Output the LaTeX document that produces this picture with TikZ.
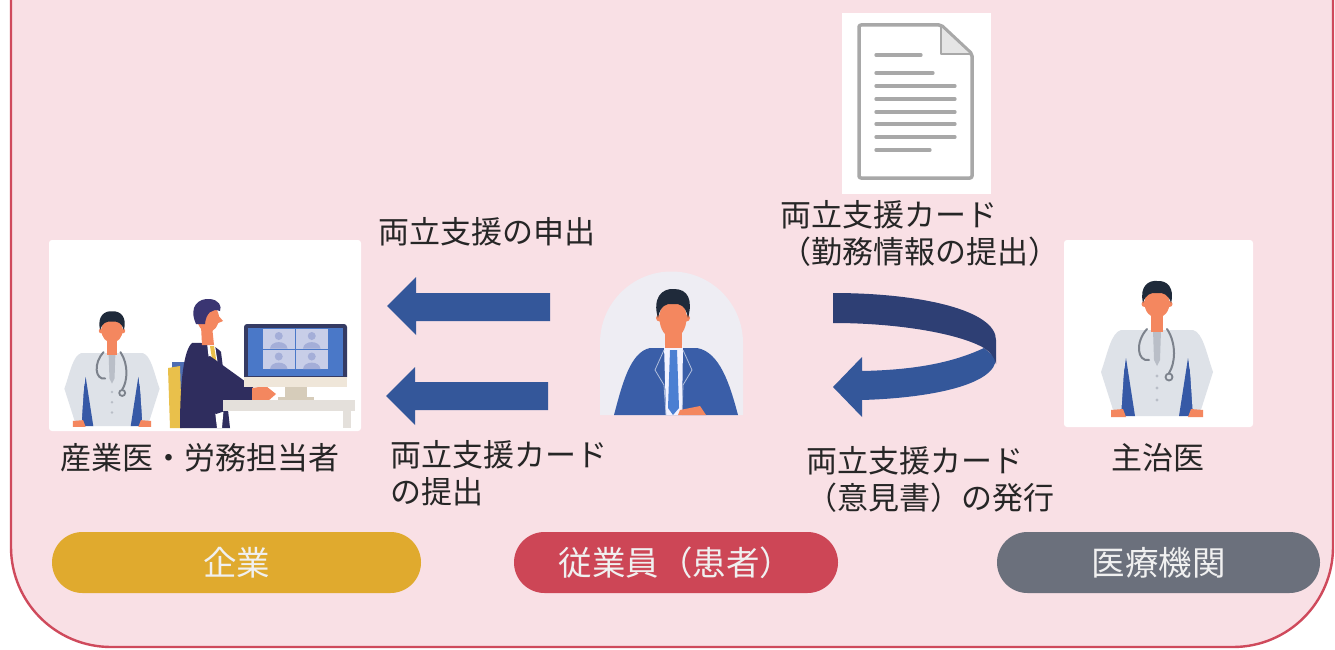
\documentclass[tikz,border=0pt]{standalone}
\usepackage{fontspec}
\usetikzlibrary{calc}
\newfontfamily\jp{Noto Sans CJK JP}
\definecolor{panelfill}{HTML}{F9E0E5}
\definecolor{panelline}{HTML}{CF4A5C}
\definecolor{arrowblue}{HTML}{34579A}
\definecolor{arrownavy}{HTML}{2E3F74}
\definecolor{txt}{HTML}{262626}
\definecolor{pillgold}{HTML}{E0AA2E}
\definecolor{pillred}{HTML}{CD4656}
\definecolor{pillgray}{HTML}{6B707C}
\definecolor{skin}{HTML}{F4875F}
\definecolor{hairdark}{HTML}{1F2A3A}
\definecolor{hairpurple}{HTML}{3A3572}
\definecolor{coat}{HTML}{DEE2E8}
\definecolor{coatshade}{HTML}{B9BEC7}
\definecolor{steth}{HTML}{7C828C}
\definecolor{innerblue}{HTML}{3659A6}
\definecolor{suitnavy}{HTML}{2F2D5E}
\definecolor{suitblue}{HTML}{3A5EA8}
\definecolor{tieblue}{HTML}{4B7FD2}
\definecolor{tiegold}{HTML}{E9C04B}
\definecolor{chairblue}{HTML}{4D6DB3}
\definecolor{monframe}{HTML}{353B63}
\definecolor{screenblue}{HTML}{4A78C8}
\definecolor{tile}{HTML}{C8CEE8}
\definecolor{tileperson}{HTML}{A4AED8}
\definecolor{bezel}{HTML}{EFE6D9}
\definecolor{stand}{HTML}{D6CCBA}
\definecolor{desk}{HTML}{E4E0DB}
\definecolor{arch}{HTML}{EEEDF3}
\definecolor{pagegray}{HTML}{A8A8A8}
\tikzset{
  lbl/.style={text=txt, font=\jp\fontsize{31}{37}\selectfont, inner sep=0pt, align=left},
  pill/.style={rounded corners=30.5pt, minimum height=61pt, inner sep=0pt,
    text=white!94!black, font=\jp\fontsize{33.5}{36}\selectfont},
  picbox/.style={fill=white, rounded corners=3pt},
  doctor/.pic={
    % coat body
    \fill[coat] (-36,0) -- (36,0) -- (25,86) -- (-25,86) -- cycle;
    % dark inner clothes showing beside the arms
    \fill[innerblue] (-31,28) -- (-22,86) -- (-40,86) -- cycle;
    \fill[innerblue] (31,28) -- (22,86) -- (40,86) -- cycle;
    % arms
    \fill[coat] (-36,0) .. controls (-46,3) and (-49,22) .. (-56,42) -- (-42,86) -- (-36,86) -- (-33,40) -- (-30,8) -- cycle;
    \fill[coat] (36,0) .. controls (46,3) and (49,22) .. (56,42) -- (42,86) -- (36,86) -- (33,40) -- (30,8) -- cycle;
    % hands
    \fill[skin] (-46,80) -- (-34,79) -- (-31,87) -- (-46,87) -- cycle;
    \fill[skin] (46,80) -- (34,79) -- (31,87) -- (46,87) -- cycle;
    % shirt and buttons
    \fill[coatshade] (-4,0) -- (4,0) -- (3,30) -- (0,36) -- (-3,30) -- cycle;
    \foreach \b in {46,58,70} \fill[coatshade] (0,\b) circle (1.6);
    % neck, face, ears, hair
    \fill[skin] (-6,-18) rectangle (6,2);
    \fill[skin] (0,-27) ellipse (12.5 and 15);
    \fill[skin] (-12.5,-26) circle (3);
    \fill[skin] (12.5,-26) circle (3);
    \fill[hairdark] (-14,-27) .. controls (-18,-44) and (-8,-50) .. (0,-49)
      .. controls (10,-50) and (18,-42) .. (14,-27)
      .. controls (12,-35) and (6,-38) .. (0,-37)
      .. controls (-6,-38) and (-12,-35) .. (-14,-27) -- cycle;
    % stethoscope
    \draw[steth, line width=2pt, line cap=round] (-10,-1) .. controls (-22,12) and (-20,32) .. (-8,30);
    \draw[steth, line width=2pt, line cap=round] (10,-1) .. controls (20,14) and (18,34) .. (12,43);
    \draw[steth, line width=1.8pt] (12,47) circle (3.5);
  }
}
\begin{document}
\begin{tikzpicture}[x=1pt,y=-1pt]
\useasboundingbox (0,0) rectangle (1335,650);
\fill[white] (0,0) rectangle (1335,650);

% background panel, its top edge lying above the page
\begin{scope}
  \clip (0,0) rectangle (1335,650);
  \draw[fill=panelfill, draw=panelline, line width=2.4pt, rounded corners=100pt]
    (11,-120) rectangle (1333,647);
\end{scope}

% ---------- company: doctor and staff at a video call ----------
\fill[picbox] (49,240) rectangle (361,431);
\pic[scale=0.85] at (112,353) {doctor};
% chair
\fill[chairblue] (172,362) rectangle (186,400);
\fill[tiegold] (168,368) -- (180,366) -- (182,428) -- (170,428) -- cycle;
% torso
\fill[suitnavy] (192,343) .. controls (184,350) and (180,380) .. (180,428) -- (230,428)
  -- (226,392) -- (221,352) .. controls (215,345) and (205,342) .. (192,343) -- cycle;
\fill[white] (207,343) -- (215,345) -- (224,405) -- (222,428) -- (217,428) -- cycle;
\fill[tiegold] (210,346) -- (214,346) -- (223,403) -- (220,410) -- cycle;
% arm reaching the keyboard
\fill[suitnavy] (196,362) -- (210,356) -- (253,387) -- (253,402) -- (216,414) -- (204,404) -- cycle;
\fill[skin] (252,388) -- (266,386) -- (276,394) -- (268,401) -- (252,402) -- cycle;
% head
\fill[skin] (201,326) -- (212,326) -- (214,345) -- (202,345) -- cycle;
\fill[skin] (208,318) ellipse (11 and 14);
\fill[skin] (217,314) -- (223,321) -- (216,324) -- cycle;
\fill[hairpurple] (196,324) .. controls (188,306) and (199,298) .. (210,299)
  .. controls (219,300) and (222,306) .. (220,311)
  .. controls (212,308) and (206,313) .. (205,324) -- cycle;
% monitor
\fill[monframe, rounded corners=3pt] (244,324) rectangle (347,380);
\fill[screenblue] (248,328) rectangle (343,376);
\foreach \tx/\ty in {263/329,296/329,263/349.5,296/349.5}{
  \fill[tile] (\tx,\ty) rectangle ++(31.5,19.5);
  \fill[tileperson] ($(\tx,\ty)+(15.75,7)$) circle (4);
  \fill[tileperson] ($(\tx,\ty)+(7,19.5)$) .. controls ($(\tx,\ty)+(8,11)$) and ($(\tx,\ty)+(23.5,11)$) .. ($(\tx,\ty)+(24.5,19.5)$) -- cycle;
}
\fill[bezel] (244,377) rectangle (347,387);
\fill[stand] (285,387) rectangle (307,398);
\fill[stand] (278,397) rectangle (314,401);
% desk
\fill[desk] (223,400) rectangle (355,411);
\fill[desk] (343,411) rectangle (351,428);

% ---------- employee ----------
\fill[arch] (600,415) -- (600,343) arc[start angle=180, end angle=360, radius=71.5] -- (743,415) -- cycle;
\fill[suitblue] (650,348) .. controls (630,352) and (622,385) .. (614,415) -- (738,415)
  .. controls (730,385) and (720,352) .. (697,348) -- cycle;
\fill[white!95!blue] (664,345) -- (683,345) -- (682,415) -- (666,415) -- cycle;
\fill[tieblue] (670,350) -- (677,350) -- (679,408) -- (673,415) -- (668,408) -- cycle;
\draw[white!60!suitblue, line width=0.8pt] (664,350) -- (655,370) -- (664,385) -- (666,415);
\draw[white!60!suitblue, line width=0.8pt] (683,350) -- (692,370) -- (683,385) -- (682,415);
\fill[skin] (680,410) -- (700,406) -- (706,415) -- (678,415) -- cycle;
\fill[skin] (665,326) rectangle (682,348);
\fill[skin] (673,318) ellipse (13.5 and 20);
\fill[skin] (659.5,318) circle (3.5);
\fill[skin] (686.5,318) circle (3.5);
\fill[hairdark] (658,318) .. controls (652,298) and (662,288) .. (674,289)
  .. controls (688,289) and (693,300) .. (688,318)
  .. controls (686,306) and (680,303) .. (673,304)
  .. controls (666,303) and (660,306) .. (658,318) -- cycle;

% ---------- attending doctor ----------
\fill[picbox] (1064,240) rectangle (1253,427);
\pic at (1157,330) {doctor};

% ---------- document icon ----------
\fill[white] (842,13) rectangle (991,194);
\draw[pagegray, line width=3.5pt, line join=round, rounded corners=2pt]
  (859,25) -- (941,25) -- (972,54) -- (972,178) -- (859,178) -- cycle;
\fill[pagegray!30] (941,27) -- (941,54) -- (970,54) -- cycle;
\draw[pagegray, line width=2.5pt, line join=round] (941,25) -- (941,54) -- (972,54);
\foreach \ly/\lx in {55/921,73/933,86/955,99/955,112/955,124/955,137/955,150/930}
  \draw[pagegray, line width=3.3pt, line cap=round] (876,\ly) -- (\lx,\ly);

% ---------- straight arrows towards the company ----------
\fill[arrowblue] (550,293) -- (416,293) -- (416,277) -- (387,306) -- (416,335) -- (416,321) -- (550,321) -- cycle;
\fill[arrowblue] (548,382) -- (415,382) -- (415,367) -- (386,396) -- (415,425) -- (415,410) -- (548,410) -- cycle;

% ---------- turning arrow between employee and doctor ----------
\fill[arrowblue] (984,348) .. controls (950,364) and (910,370) .. (862,371) -- (862,357) -- (833,387)
  -- (862,417) -- (862,400) .. controls (930,398) and (996,385) .. (996,358) -- cycle;
\fill[arrownavy] (833,293) .. controls (920,293) and (996,310) .. (996,340) -- (996,364)
  .. controls (994,356) and (990,352) .. (984,348) .. controls (960,334) and (900,323) .. (833,323) -- cycle;

% ---------- labels ----------
\node[lbl, anchor=west] (req) at (378,232) {両立支援の申出};
\node[lbl, anchor=north west] (submit) at (390,440) {両立支援カード\\の提出};
\node[lbl, anchor=west] (staff) at (60,458) {産業医・労務担当者};
\node[lbl, anchor=north west] (work) at (780,200) {両立支援カード\\（勤務情報の提出）};
\node[lbl, anchor=north west] (issue) at (806,446) {両立支援カード\\（意見書）の発行};
\node[lbl] (attend) at (1158,458) {主治医};

% ---------- category pills ----------
\node[pill, fill=pillgold, minimum width=369pt] (company) at (236.5,562.5) {企業};
\node[pill, fill=pillred, minimum width=324pt] (employee) at (676,562.5) {従業員（患者）};
\node[pill, fill=pillgray, minimum width=323pt] (hospital) at (1158.5,562.5) {医療機関};
\end{tikzpicture}
\end{document}
